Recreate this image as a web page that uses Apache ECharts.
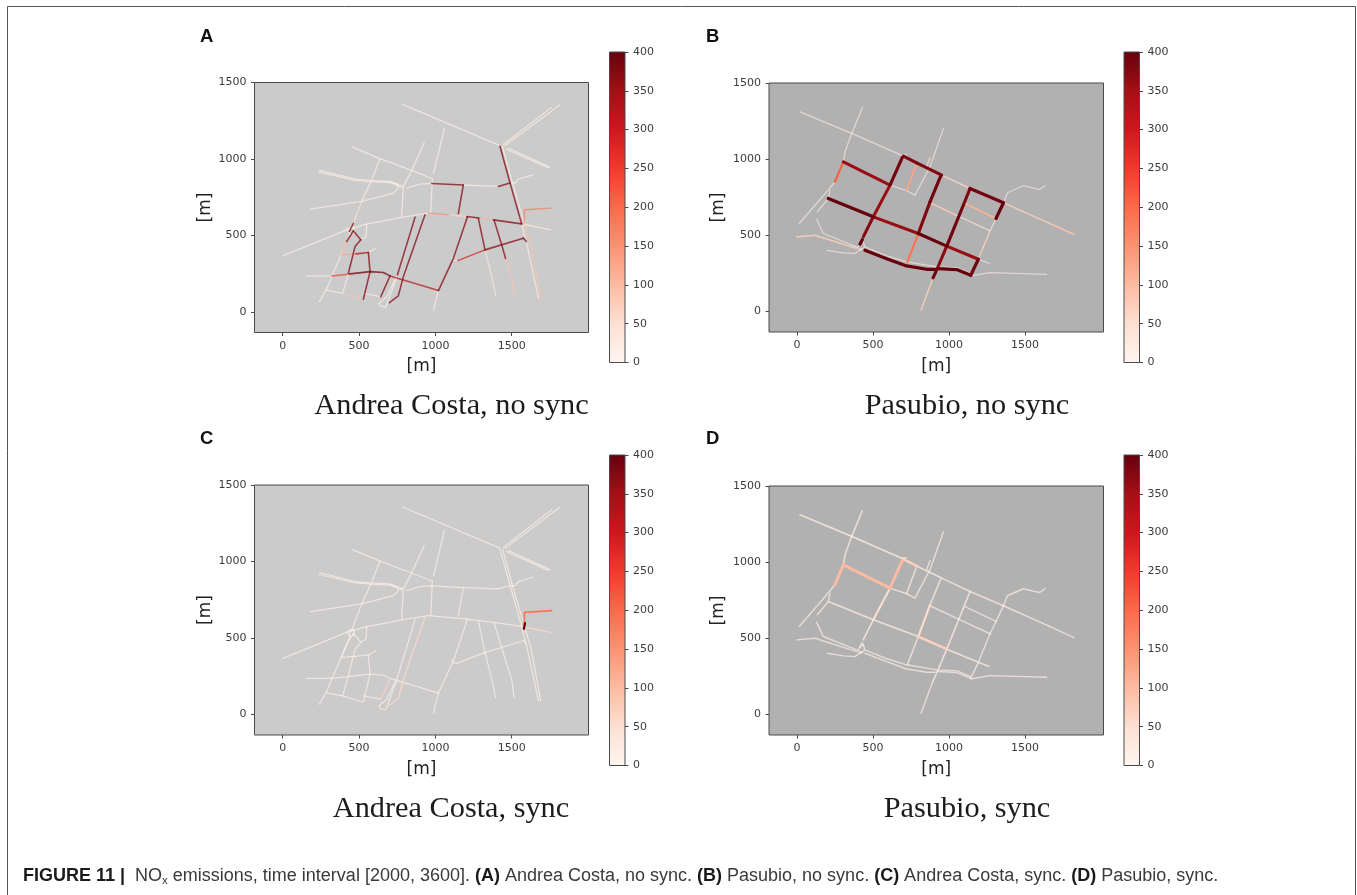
<!DOCTYPE html>
<html>
<head>
<meta charset="utf-8">
<style>html,body{margin:0;padding:0;background:#fff}#c{width:1357px;height:895px}</style>
<script src="https://cdn.jsdelivr.net/npm/echarts@6/dist/echarts.min.js"></script>
</head>
<body>
<div id="c"></div>
<script>
// ---------- data (metres, NOx emission per road piece) ----------
const xTicks = [0, 500, 1000, 1500];
const yTicks = [0, 500, 1000, 1500];
const barTicks = [0, 50, 100, 150, 200, 250, 300, 350, 400];
const redsStops = ['#fff5f0','#fee0d2','#fcbba1','#fc9272','#fb6a4a','#ef3b2c','#cb181d','#a50f15','#67000d'];

const costaRoads = [
 [[781,1358],[1423,1087]],
 [[1445,1094],[1762,1338]],
 [[1456,1087],[1816,1354]],
 [[1478,1072],[1751,947]],
 [[1465,1065],[1740,942]],
 [[1423,1083],[1489,843],[1565,576]],
 [[1440,1080],[1505,843],[1585,570]],
 [[1565,576],[1600,440],[1675,90]],
 [[1585,570],[1625,440],[1690,90]],
 [[1576,484],[1595,462]],
 [[0,367],[419,537],[550,574],[790,620],[954,646]],
 [[954,646],[1085,635]],
 [[1085,635],[1205,624]],
 [[1205,624],[1285,614]],
 [[1285,614],[1380,602]],
 [[1380,602],[1565,576]],
 [[1585,572],[1755,537]],
 [[456,1078],[637,1002],[844,925],[980,871]],
 [[240,928],[474,869],[572,860],[703,853],[790,821]],
 [[240,915],[474,860],[572,852],[703,845],[780,815]],
 [[812,810],[899,836],[976,840]],
 [[976,840],[1183,830]],
 [[1183,830],[1412,821]],
 [[1412,821],[1489,843]],
 [[1489,843],[1522,843],[1543,869],[1637,897]],
 [[179,672],[517,723],[725,777],[758,810],[751,832],[703,853]],
 [[637,1002],[583,864],[517,723]],
 [[517,723],[463,580]],
 [[463,580],[436,526]],
 [[440,510],[321,231],[284,144],[240,68]],
 [[926,1105],[845,925],[790,821],[779,624]],
 [[1059,1201],[987,904]],
 [[980,871],[969,646]],
 [[1183,830],[1150,642]],
 [[867,620],[751,242]],
 [[751,242],[681,100],[631,57],[638,39],[675,31],[751,236]],
 [[932,635],[790,231],[757,105],[699,61]],
 [[157,236],[321,236]],
 [[321,236],[441,249]],
 [[441,249],[572,264],[659,258],[703,236]],
 [[703,236],[1020,140]],
 [[1020,140],[1118,351],[1209,620]],
 [[1020,140],[987,9]],
 [[1107,358],[1120,338],[1146,336]],
 [[1146,336],[1325,406]],
 [[1325,406],[1576,482]],
 [[1281,613],[1325,406]],
 [[1325,406],[1369,231],[1395,111]],
 [[1384,602],[1434,439],[1460,350]],
 [[1460,350],[1500,231],[1515,111]],
 [[1583,581],[1583,668],[1762,679]],
 [[1580,560],[1587,598]],
 [[463,530],[511,472]],
 [[511,472],[474,428],[430,253]],
 [[430,253],[393,122]],
 [[463,530],[419,461]],
 [[419,461],[386,373]],
 [[386,373],[480,380]],
 [[480,380],[561,389]],
 [[561,389],[611,417]],
 [[561,389],[572,264],[528,83]],
 [[284,144],[300,140],[393,122]],
 [[393,122],[524,83]],
 [[528,122],[642,100]],
 [[703,236],[642,100]],
 [[550,574],[546,493],[511,472]],
 [[419,540],[440,510],[470,520],[463,560],[419,540]]
];
const costaNoSync = [15,25,15,15,15,375,20,20,90,380,15,160,60,375,120,375,25,15,20,20,15,375,15,375,12,20,20,40,375,15,15,15,15,375,375,15,375,12,240,395,320,375,12,12,290,375,375,30,375,90,180,20,375,375,15,375,120,130,340,15,375,15,90,20,375,15,15];
const costaSync   = [15,12,12,12,12,15,15,15,15,15,15,15,15,15,15,15,60,15,15,15,15,15,15,15,12,15,15,15,15,15,15,12,15,15,15,15,60,12,15,15,15,15,12,12,15,15,12,12,12,12,190,400,15,25,15,15,15,15,15,15,15,15,15,15,70,15,15];

const pasubioRoads = [
 [[20,1311],[360,1169],[700,1020]],
 [[700,1020],[787,975]],
 [[787,975],[952,895]],
 [[952,895],[1138,807]],
 [[1138,807],[1358,713]],
 [[1358,713],[1654,581]],
 [[1654,581],[1822,504]],
 [[430,1338],[360,1169],[316,1048],[305,982]],
 [[305,982],[250,851]],
 [[250,851],[195,785],[15,577]],
 [[217,796],[206,741],[134,654]],
 [[305,982],[480,895],[612,829]],
 [[693,1011],[612,829]],
 [[612,829],[502,621]],
 [[502,621],[436,489]],
 [[430,470],[414,441]],
 [[612,829],[722,792]],
 [[722,792],[776,763],[875,950],[963,1200]],
 [[853,950],[875,1011]],
 [[787,971],[722,796]],
 [[206,741],[502,621]],
 [[502,621],[798,511]],
 [[798,511],[985,428]],
 [[985,428],[1193,342]],
 [[1193,342],[1265,314]],
 [[945,888],[875,719]],
 [[875,719],[798,511]],
 [[798,511],[726,325]],
 [[1138,807],[1094,697]],
 [[1094,697],[985,428]],
 [[985,428],[923,281]],
 [[923,281],[895,220]],
 [[895,220],[816,7]],
 [[875,713],[1062,625]],
 [[1062,625],[1270,529]],
 [[1105,708],[1309,610]],
 [[1358,713],[1309,610]],
 [[1309,610],[1270,529]],
 [[1270,529],[1193,342]],
 [[1193,342],[1143,237]],
 [[1358,713],[1384,779],[1489,825],[1594,800],[1632,825]],
 [[447,401],[590,346],[721,298],[853,276],[908,276]],
 [[930,281],[1050,274],[1143,237]],
 [[447,423],[590,365],[721,325],[923,292],[1050,287],[1143,248]],
 [[1143,232],[1270,254],[1642,243]],
 [[0,489],[118,500],[393,412]],
 [[129,605],[173,511],[393,423]],
 [[200,401],[305,384],[382,379],[425,412]],
 [[414,441],[436,460],[445,425],[420,400],[400,420],[414,441]],
 [[693,1025],[720,1030]]
];
const pasubioNoSync = [25,380,380,60,390,70,90,20,210,15,15,360,390,360,375,400,20,15,15,130,400,360,400,360,20,390,380,190,380,390,370,390,70,80,25,110,400,20,70,390,15,400,400,20,15,70,15,15,15,15];
const pasubioSync   = [25,70,25,20,20,20,15,20,100,15,15,100,100,50,25,25,20,15,15,20,25,25,70,25,20,20,50,20,25,25,25,20,15,15,15,15,20,15,15,20,15,15,15,15,15,15,15,15,15,15];

// ---------- layout ----------
const panels = [
 {letter:'A', title:'Andrea Costa, no sync', roads:costaRoads,   values:costaNoSync,   bg:'#cbcbcb', l:254.5, r:588.5,  t:82.5, b:332.5, xMin:-185, xMax:2003, yMin:-134, barL:609.5, barT:52,  lx:200, ly:37,  tx:451.5, ty:406, w0:1.3, wk:0.3, op0:0.68, opK:0.06, yGap:40},
 {letter:'B', title:'Pasubio, no sync',      roads:pasubioRoads, values:pasubioNoSync, bg:'#b1b1b1', l:769,   r:1103.5, t:83,   b:332,   xMin:-184, xMax:2016, yMin:-136, barL:1124,  barT:52,  lx:706, ly:37,  tx:967,   ty:406, w0:1.2, wk:2.0, op0:0.55, opK:1.5, yGap:42},
 {letter:'C', title:'Andrea Costa, sync',    roads:costaRoads,   values:costaSync,     bg:'#cbcbcb', l:254.5, r:588.5,  t:485,  b:735,   xMin:-185, xMax:2003, yMin:-134, barL:609.5, barT:455, lx:200, ly:439, tx:451,   ty:809, w0:1.2, wk:1.0, op0:0.68, opK:0.6, yGap:40},
 {letter:'D', title:'Pasubio, sync',         roads:pasubioRoads, values:pasubioSync,   bg:'#b1b1b1', l:769,   r:1103.5, t:486,  b:735,   xMin:-184, xMax:2016, yMin:-136, barL:1124,  barT:455, lx:706, ly:439, tx:967,   ty:809, w0:1.2, wk:7.0, op0:0.55, opK:3.5, yGap:42}
];
const ink = '#3c3c3c', edge = '#4a4a4a', tickFont = 'DejaVu Sans';

const grids = [], xAxes = [], yAxes = [], series = [], texts = [];
const gradient = new echarts.graphic.LinearGradient(0, 1, 0, 0,
  redsStops.map((c, i) => ({offset: i / (redsStops.length - 1), color: c})));
const plain = v => String(v);

panels.forEach((p, i) => {
  const g = i * 2, h = i * 2 + 1;
  grids.push({left:p.l, top:p.t, width:p.r - p.l, height:p.b - p.t, show:true, backgroundColor:p.bg, borderColor:edge, borderWidth:1, containLabel:false});
  xAxes.push({type:'value', gridIndex:g, min:p.xMin, max:p.xMax, name:'[m]', nameLocation:'middle', nameGap:26,
    nameTextStyle:{fontFamily:tickFont, fontSize:17, color:'#222'},
    splitLine:{show:false}, axisLine:{show:false,onZero:false},
    axisTick:{show:true, length:3.5, customValues:xTicks, lineStyle:{color:edge}},
    axisLabel:{show:true, customValues:xTicks, formatter:plain, margin:8, fontFamily:tickFont, fontSize:11, color:ink, showMinLabel:true, showMaxLabel:true}});
  yAxes.push({type:'value', gridIndex:g, min:p.yMin, max:1500, name:'[m]', nameLocation:'middle', nameGap:p.yGap, nameRotate:90,
    nameTextStyle:{fontFamily:tickFont, fontSize:17, color:'#222'},
    splitLine:{show:false}, axisLine:{show:false,onZero:false},
    axisTick:{show:true, length:3.5, customValues:yTicks, lineStyle:{color:edge}},
    axisLabel:{show:true, customValues:yTicks, formatter:plain, margin:8, fontFamily:tickFont, fontSize:11, color:ink, showMinLabel:true, showMaxLabel:true}});
  series.push({type:'lines', coordinateSystem:'cartesian2d', xAxisIndex:g, yAxisIndex:g, polyline:true, silent:true, animation:false,
    data:p.roads.map((coords, k) => ({coords, value:p.values[k],
      lineStyle:{color:echarts.color.lerp(p.values[k] / 400, redsStops), width:p.w0 + p.wk * p.values[k] / 400,
        opacity:Math.min(1, p.op0 + p.opK * p.values[k] / 400), cap:'round', join:'round'}}))
      .sort((a, b) => a.value - b.value)});
  // colour bar
  grids.push({left:p.barL, top:p.barT, width:15.5, height:310.5, show:true, backgroundColor:'transparent', borderColor:edge, borderWidth:1, z:3});
  xAxes.push({type:'category', gridIndex:h, data:['NOx'], show:false});
  yAxes.push({type:'value', gridIndex:h, min:0, max:400, interval:50, position:'right', splitLine:{show:false}, axisLine:{show:false},
    axisTick:{show:true, length:3.5, lineStyle:{color:edge}},
    axisLabel:{margin:8, fontFamily:tickFont, fontSize:11, color:ink, customValues:barTicks}});
  series.push({type:'bar', xAxisIndex:h, yAxisIndex:h, data:[400], barWidth:'100%', silent:true, animation:false, itemStyle:{color:gradient}});
  texts.push({type:'text', x:p.lx, y:p.ly, style:{text:p.letter, font:'bold 18.5px "Liberation Sans"', fill:'#111', textVerticalAlign:'middle'}});
  texts.push({type:'text', x:p.tx, y:p.ty, style:{text:p.title, font:'30.3px "Liberation Serif"', fill:'#1c1c1c', textAlign:'center', textVerticalAlign:'middle'}});
});

texts.push({type:'polyline', silent:true, shape:{points:[[7.5,895],[7.5,6.5],[1355.5,6.5],[1355.5,895]]}, style:{stroke:'#555', lineWidth:1, fill:null}});
texts.push({type:'text', x:23, y:876, style:{
  text:'{b|FIGURE 11 |  }{n|NO}{s|x}{n| emissions, time interval [2000, 3600]. }{b|(A)}{n| Andrea Costa, no sync. }{b|(B)}{n| Pasubio, no sync. }{b|(C)}{n| Andrea Costa, sync. }{b|(D)}{n| Pasubio, sync.}',
  textVerticalAlign:'middle',
  rich:{
    b:{font:'bold 18px "Liberation Sans"', fill:'#1a1a1a', lineHeight:21},
    n:{font:'18px "Liberation Sans"', fill:'#3a3a3a', lineHeight:21},
    s:{font:'11.5px "Liberation Sans"', fill:'#3a3a3a', lineHeight:21, verticalAlign:'bottom'}
  }}});

const chart = echarts.init(document.getElementById('c'), null, {renderer:'canvas'});
chart.setOption({animation:false, backgroundColor:'#fff', grid:grids, xAxis:xAxes, yAxis:yAxes, series, graphic:{elements:texts}});
</script>
</body>
</html>
